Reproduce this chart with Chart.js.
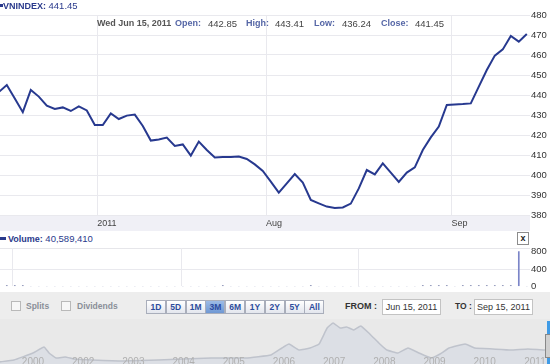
<!DOCTYPE html>
<html><head><meta charset="utf-8">
<script src="https://cdn.jsdelivr.net/npm/chart.js@4.4.1/dist/chart.umd.min.js"></script>
<style>
html,body{margin:0;padding:0;width:550px;height:364px;overflow:hidden;background:#fff;font-family:"Liberation Sans",Arial,sans-serif;position:relative;}
.a{position:absolute;white-space:nowrap;line-height:1;}
canvas{position:absolute;left:0;}
.b{font-weight:bold;}
.navy{color:#2a3a8c;}
.lab{color:#5566a6;font-weight:bold;font-size:9px;}
.val{color:#444;font-size:9.5px;}
#ctrl{position:absolute;left:0;top:292px;width:550px;height:72px;background:#ededed;}
.btn{position:absolute;top:300px;width:18px;height:12px;border:1px solid #a9aebb;background:linear-gradient(#ffffff,#e3e6ee);color:#2c4c9c;font-weight:bold;font-size:8.5px;text-align:center;line-height:12px;}
.btn.sel{background:linear-gradient(#9dbbe6,#6f98d4);color:#2a4aa0;}
.chk{position:absolute;top:301px;width:8px;height:8px;border:1px solid #b9b9b9;background:#f7f7f7;}
.ctxt{color:#8a8f98;font-weight:bold;font-size:8.5px;top:302px;}
.box{position:absolute;top:299px;height:14px;border:1px solid #c3c3c3;background:#fff;font-size:9px;color:#333;text-align:center;line-height:14px;}
</style></head><body>
<canvas id="main" width="550" height="232" style="top:0"></canvas>
<div class="a" style="left:0;top:4px;width:3px;height:3px;background:#2a3a8c"></div>
<div class="a navy" style="left:3px;top:1px;font-size:9px"><span class="b">VNINDEX:</span> <span style="font-size:9.5px">441.45</span></div>
<div class="a" style="left:97px;top:19px;color:#555;font-weight:bold;font-size:9px">Wed Jun 15, 2011</div>
<div class="a lab" style="left:175px;top:19px">Open:</div>
<div class="a val" style="left:208px;top:18.5px">442.85</div>
<div class="a lab" style="left:246px;top:19px">High:</div>
<div class="a val" style="left:275px;top:18.5px">443.41</div>
<div class="a lab" style="left:314px;top:19px">Low:</div>
<div class="a val" style="left:342px;top:18.5px">436.24</div>
<div class="a lab" style="left:381px;top:19px">Close:</div>
<div class="a val" style="left:415px;top:18.5px">441.45</div>

<div class="a" style="left:0;top:237px;width:6px;height:3px;background:#2a3a8c"></div>
<div class="a navy" style="left:8px;top:234px;font-size:9px"><span class="b">Volume:</span> <span style="font-size:9.5px">40,589,410</span></div>
<div class="a" style="left:517px;top:232px;width:10px;height:11px;border:1px solid #8c8c8c;background:#fff;font-size:9px;font-weight:bold;text-align:center;line-height:10px;color:#222">x</div>
<canvas id="vol" width="550" height="57" style="top:236px"></canvas>

<div id="ctrl"></div>
<div class="chk" style="left:11px"></div>
<div class="a ctxt" style="left:26px">Splits</div>
<div class="chk" style="left:61px"></div>
<div class="a ctxt" style="left:77px">Dividends</div>
<div id="btns"></div>
<div class="a" style="left:345px;top:302px;font-size:9px;font-weight:bold;color:#333">FROM :</div>
<div class="box" style="left:382px;width:57px">Jun 15, 2011</div>
<div class="a" style="left:455px;top:302px;font-size:8.5px;font-weight:bold;color:#333">TO :</div>
<div class="box" style="left:474px;width:57px">Sep 15, 2011</div>
<div class="a" style="left:0;top:319px;width:550px;height:45px;background:#e9e9e9"></div>
<canvas id="nav" width="550" height="52" style="top:318px"></canvas>
<div class="a" style="left:547px;top:321px;width:3px;height:43px;background:#3f9be6"></div>
<div class="a" style="left:545px;top:334px;width:5px;height:22px;background:#d0d0d0;border:1px solid #888"></div>

<script>
// ---- main series (VNINDEX close, trading days Jun 15 - Sep 15, 2011)
const closes = [441.45,445.0,438.2,431.4,442.5,439.2,434.7,433.0,433.8,432.0,434.3,432.3,425.0,425.0,430.8,428.0,429.7,430.2,424.5,417.2,417.8,418.7,414.5,415.3,409.7,416.7,412.5,408.8,409.0,409.0,409.2,408.0,405.3,402.0,396.7,391.2,395.8,400.5,396.2,387.5,385.8,384.2,383.5,383.8,385.7,393.3,402.5,400.3,405.8,401.2,396.5,401.2,403.8,412.5,418.8,424.2,435.0,435.3,435.5,435.8,444.2,452.5,459.7,462.8,469.5,466.7,470.5];
const volumes = [25,20,20,20,0,0,0,0,0,0,0,0,0,0,0,0,0,0,0,0,0,0,0,0,0,0,0,0,20,0,0,0,0,0,0,0,0,0,0,20,0,0,0,0,0,0,0,0,0,0,0,0,0,20,20,20,20,0,20,20,20,20,20,20,20,805,0];
const volTicks = [0,400,800];
const xTickPos = [12.3,33.4,56.6];
const xTickLabels = ["2011","Aug","Sep"];
const rangeButtons = ["1D","5D","1M","3M","6M","1Y","2Y","5Y","All"];
const selectedRange = "3M";
// ---- navigator (long history overview)
const navYears = ["2000","2002","2003","2004","2005","2006","2007","2008","2009","2010","2011"];
const navPos = [-0.66,-0.38,0,0.22,0.32,0.46,0.64,0.82,1.18,1.79,2.49,2.99,3.55,4.24,4.74,4.96,5.10,5.30,5.52,5.70,5.86,5.98,6.12,6.25,6.39,6.53,6.71,6.91,7.05,7.27,7.47,7.69,7.93,8.11,8.29,8.61,8.80,9.16,9.52,9.86,10.18,10.3];
const navVals = [60,114,314,485,314,171,200,143,114,86,114,143,171,171,257,456,570,399,456,570,1026,1169,1026,1055,969,1083,855,570,399,314,456,314,171,285,456,570,456,428,399,428,399,410];

// buttons
const bw = document.getElementById('btns');
rangeButtons.forEach((t,i)=>{const d=document.createElement('div');d.className='btn'+(t===selectedRange?' sel':'');d.style.left=(146+i*19.8)+'px';d.textContent=t;bw.appendChild(d);});

const FONT = "'Liberation Sans', Arial, sans-serif";
const bandPlugin = {id:'band',beforeDraw(c){const a=c.chartArea,g=c.ctx;g.save();g.fillStyle='#f0f0f6';g.fillRect(0,a.bottom+1,a.right,15);g.restore();}};
new Chart(document.getElementById('main'),{
  type:'line',
  data:{datasets:[{data:closes.map((v,i)=>({x:i,y:v})),borderColor:'#27398f',borderWidth:2,pointRadius:0,tension:0,fill:false}]},
  options:{animation:false,responsive:false,maintainAspectRatio:false,
    layout:{padding:{top:15,left:0,right:0,bottom:0}},
    plugins:{legend:{display:false},tooltip:{enabled:false}},
    scales:{
      x:{type:'linear',min:0.15,max:66.4,
        afterBuildTicks:s=>{s.ticks=xTickPos.map(v=>({value:v}));},
        afterFit:s=>{s.height=17;},
        ticks:{callback:(v,i)=>xTickLabels[i],align:'start',padding:3,maxRotation:0,autoSkip:false,color:'#444',font:{size:9,family:FONT}},
        grid:{color:'#e9e9ee',drawTicks:false},border:{display:false}},
      y:{position:'right',min:380,max:480,
        afterFit:s=>{s.width=20;},
        ticks:{stepSize:10,padding:1,color:'#333',font:{size:9.5,family:FONT}},
        grid:{color:'#e9e9ee',drawTicks:false},border:{display:false}}
    }},
  plugins:[bandPlugin]
});

const topLine = {id:'topline',beforeDraw(c){const a=c.chartArea,g=c.ctx;g.save();g.strokeStyle='#e6e6ea';g.lineWidth=1;g.beginPath();g.moveTo(0,a.top+0.5);g.lineTo(a.right,a.top+0.5);g.stroke();g.restore();}};
new Chart(document.getElementById('vol'),{
  type:'bar',
  data:{datasets:[{data:volumes.map((v,i)=>({x:i,y:v})),backgroundColor:volumes.map((v,i)=>i===0?'#2a3a8c':(v>400?'#7b85c8':'#9aa0c0')),barThickness:1,borderWidth:0}]},
  options:{animation:false,responsive:false,maintainAspectRatio:false,
    layout:{padding:{top:12,left:0,right:0,bottom:5}},
    plugins:{legend:{display:false},tooltip:{enabled:false}},
    scales:{
      x:{type:'linear',min:0.15,max:66.4,offset:false,
        afterBuildTicks:s=>{s.ticks=xTickPos.map(v=>({value:v}));},
        afterFit:s=>{s.height=0;},
        ticks:{display:false},
        grid:{color:'#e9e9ee',drawTicks:false},border:{display:false}},
      y:{position:'right',min:0,max:889,
        afterBuildTicks:s=>{s.ticks=volTicks.map(v=>({value:v}));},
        afterFit:s=>{s.width=20;},
        ticks:{padding:1,color:'#333',font:{size:9.5,family:FONT}},
        grid:{color:c=>c.tick&&c.tick.value===400?'#e9e9ee':'rgba(0,0,0,0)',drawTicks:false},border:{display:false}}
    }},
  plugins:[topLine]
});

// navigator year labels drawn from the x scale ticks, on top of the area
const navLabels = {id:'navLabels',afterDatasetsDraw(c){const s=c.scales.x,g=c.ctx;g.save();g.fillStyle='#b0b0b0';g.font="10px "+FONT;g.textAlign='center';g.textBaseline='middle';
  s.ticks.forEach((t,i)=>{g.fillText(navYears[i],s.getPixelForValue(t.value),c.chartArea.bottom-2);});g.restore();}};
new Chart(document.getElementById('nav'),{
  type:'line',
  data:{datasets:[{data:navPos.map((p,i)=>({x:p,y:navVals[i]})),borderColor:'#bfc3cc',borderWidth:1.5,backgroundColor:'#dcdfe5',fill:'origin',pointRadius:0,tension:0.1}]},
  options:{animation:false,responsive:false,maintainAspectRatio:false,
    layout:{padding:{top:3,left:0,right:0,bottom:6}},
    plugins:{legend:{display:false},tooltip:{enabled:false}},
    scales:{
      x:{type:'linear',display:false,min:-0.657,max:10.3,
        afterBuildTicks:s=>{s.ticks=navYears.map((y,i)=>({value:i}));}},
      y:{display:false,min:0,max:1225}
    }},
  plugins:[navLabels]
});
</script>
</body></html>
